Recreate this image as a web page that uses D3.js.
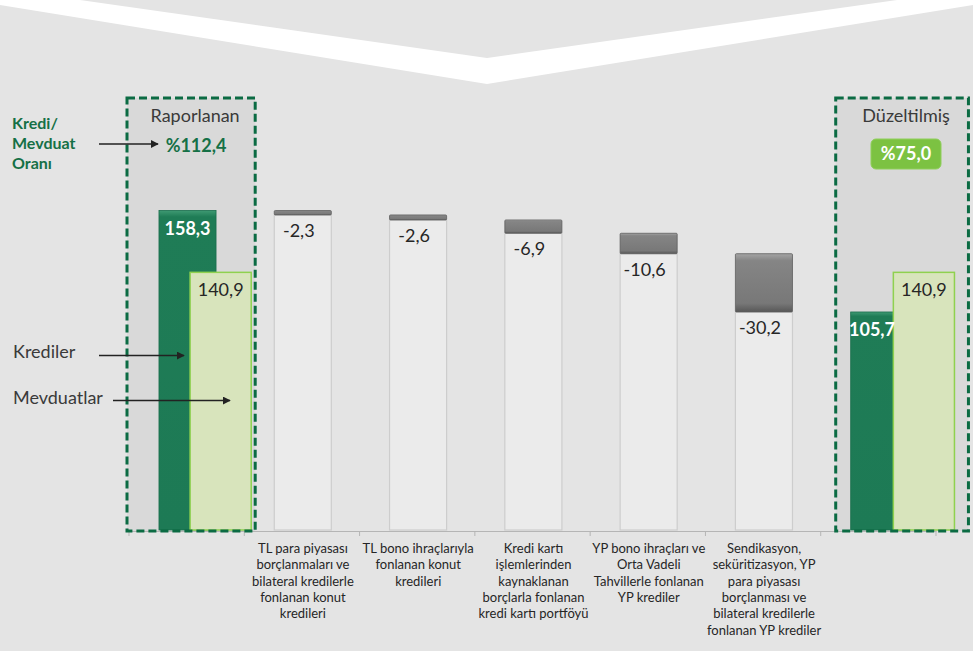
<!DOCTYPE html>
<html>
<head>
<meta charset="utf-8">
<script src="https://cdn.jsdelivr.net/npm/d3@7"></script>
<style>
  html, body { margin: 0; padding: 0; background: #e4e4e4; }
  svg { display: block; font-family: Lato, "Open Sans", sans-serif; }
</style>
</head>
<body>
<svg id="chart" width="973" height="651"></svg>
<script>
// ---------- data ----------
const categories = ["Raporlanan", "TL para", "TL bono", "Kredi kartı", "YP bono", "Sendikasyon", "Düzeltilmiş"];
const categoryLabelLines = [
  [],
  ["TL para piyasası", "borçlanmaları ve", "bilateral kredilerle", "fonlanan konut", "kredileri"],
  ["TL bono ihraçlarıyla", "fonlanan konut", "kredileri"],
  ["Kredi kartı", "işlemlerinden", "kaynaklanan", "borçlarla fonlanan", "kredi kartı portföyü"],
  ["YP bono ihraçları ve", "Orta Vadeli", "Tahvillerle fonlanan", "YP krediler"],
  ["Sendikasyon,", "seküritizasyon, YP", "para piyasası", "borçlanması ve", "bilateral kredilerle", "fonlanan YP krediler"],
  []
];
const endCategories = [0, 6];
const endTitles = ["Raporlanan", "Düzeltilmiş"];
const krediValues = [158.3, 105.7];
const mevduatValues = [140.9, 140.9];
const ratioLabels = ["%112,4", "%75,0"];
const adjustmentValues = [-2.3, -2.6, -6.9, -10.6, -30.2];
const adjustmentLabels = ["-2,3", "-2,6", "-6,9", "-10,6", "-30,2"];
const sideLabels = ["Kredi/", "Mevduat", "Oranı"];
const seriesNames = ["Krediler", "Mevduatlar"];

// ---------- setup ----------
const W = 973, H = 651;
const svg = d3.select("#chart");
const GREEN_TEXT = "#157046";
const TEXT = "#3a3a3a";

const defs = svg.append("defs");
const gGray = defs.append("linearGradient").attr("id", "gray").attr("x1", 0).attr("x2", 0).attr("y1", 0).attr("y2", 1);
gGray.append("stop").attr("offset", "0%").attr("stop-color", "#a5a5a5");
gGray.append("stop").attr("offset", "12%").attr("stop-color", "#858585");
gGray.append("stop").attr("offset", "85%").attr("stop-color", "#787878");
gGray.append("stop").attr("offset", "100%").attr("stop-color", "#575757");
const gGreen = defs.append("linearGradient").attr("id", "green").attr("x1", 0).attr("x2", 0).attr("y1", 0).attr("y2", 1);
gGreen.append("stop").attr("offset", "0%").attr("stop-color", "#3f9a73");
gGreen.append("stop").attr("offset", "2%").attr("stop-color", "#1f7c56");
gGreen.append("stop").attr("offset", "100%").attr("stop-color", "#1d7a55");
const mk = defs.append("marker").attr("id", "arrow").attr("viewBox", "0 0 10 10")
  .attr("refX", 9).attr("refY", 5).attr("markerWidth", 8).attr("markerHeight", 8)
  .attr("markerUnits", "userSpaceOnUse").attr("orient", "auto");
mk.append("path").attr("d", "M0,0 L10,5 L0,10 z").attr("fill", "#222");

// background + chevron
svg.append("rect").attr("width", W).attr("height", H).attr("fill", "#e4e4e4");
svg.append("path")
  .attr("d", `M0,0 L80,0 L487,58 L897,0 L973,0 L973,5 L487,84 L0,5 Z`)
  .attr("fill", "#ffffff");

// scales
const x = d3.scaleBand().domain(d3.range(categories.length)).range([129, 936]).padding(0);
const bw = x.bandwidth();
const yK = d3.scaleLinear().domain([-7.3, 158.3]).range([530, 210.5]);
const yM = d3.scaleLinear().domain([0, 175]).range([530, 210]);
const base = 530;
const barX = i => x(i) + bw * 0.26;
const barW = bw * 0.495;
const mevOffset = [0.53, 0.63];
const mevW = bw * 0.53;
const boxPad = [[-2, 4], [15, 14]];

// highlight boxes (fill)
const boxes = endCategories.map((c, k) => {
  const left = x(c) + boxPad[k][0];
  const right = x(c) + bw * mevOffset[k] + mevW + boxPad[k][1];
  return { left, right, top: 98, bottom: 531 };
});
boxes.forEach(b => {
  svg.append("rect").attr("x", b.left).attr("y", b.top).attr("width", b.right - b.left).attr("height", b.bottom - b.top)
    .attr("fill", "#d9d9d9");
});

// axis
const axisG = svg.append("g").attr("transform", `translate(0,${base + 1})`)
  .call(d3.axisBottom(x).tickValues([]).tickSizeOuter(0));
axisG.select(".domain").attr("stroke", "#b5b5b5");
d3.range(categories.length + 1).forEach(i => {
  const tx = 129 + i * bw;
  axisG.append("line").attr("x1", tx).attr("x2", tx).attr("y1", 0).attr("y2", 5).attr("stroke", "#b5b5b5");
});

// waterfall
let running = krediValues[0];
adjustmentValues.forEach((v, k) => {
  const i = k + 1;
  const top = running, bottom = running + v;
  running = bottom;
  svg.append("rect").attr("x", barX(i)).attr("y", yK(bottom)).attr("width", barW).attr("height", base - yK(bottom))
    .attr("fill", "#ebebeb").attr("stroke", "#cdcdcd").attr("stroke-width", 1.2);
  svg.append("rect").attr("x", barX(i)).attr("y", yK(top)).attr("width", barW).attr("height", Math.max(2.5, yK(bottom) - yK(top)))
    .attr("fill", "url(#gray)").attr("stroke", "#5e5e5e").attr("stroke-width", 0.8).attr("rx", 1);
  svg.append("text").attr("x", barX(i) + barW / 2 - 4).attr("y", yK(bottom) + 22)
    .attr("text-anchor", "middle").attr("font-size", 18).attr("fill", "#262626").text(adjustmentLabels[k]);
});

// end bars
endCategories.forEach((c, k) => {
  const kx = barX(c);
  const mx = x(c) + bw * mevOffset[k];
  svg.append("rect").attr("x", kx).attr("y", yK(krediValues[k])).attr("width", barW).attr("height", base - yK(krediValues[k]))
    .attr("fill", "url(#green)").attr("stroke", "#1a6e4c").attr("stroke-width", 0.8);
  svg.append("rect").attr("x", mx).attr("y", yM(mevduatValues[k])).attr("width", mevW).attr("height", base - yM(mevduatValues[k]))
    .attr("fill", "#d8e4bc").attr("stroke", "#8fd14f").attr("stroke-width", 1.5);
  const ky = yK(krediValues[k]);
  const fullVisible = ky + 24 < yM(mevduatValues[k]);
  const kcx = fullVisible ? kx + barW / 2 : (kx + mx) / 2;
  svg.append("text").attr("x", kcx).attr("y", ky + 24).attr("text-anchor", "middle")
    .attr("font-size", 18).attr("font-weight", "bold").attr("fill", "#ffffff").text(String(krediValues[k]).replace(".", ","));
  svg.append("text").attr("x", mx + mevW / 2).attr("y", yM(mevduatValues[k]) + 24).attr("text-anchor", "middle")
    .attr("font-size", 18).attr("fill", "#262626").text(String(mevduatValues[k]).replace(".", ","));
  svg.append("text").attr("x", (boxes[k].left + boxes[k].right) / 2 + 4).attr("y", 122).attr("text-anchor", "middle")
    .attr("font-size", 18).attr("fill", TEXT).text(endTitles[k]);
});

// dashed boxes outline
boxes.forEach(b => {
  svg.append("rect").attr("x", b.left).attr("y", b.top).attr("width", b.right - b.left).attr("height", b.bottom - b.top)
    .attr("fill", "none").attr("stroke", "#0b6b43").attr("stroke-width", 3).attr("stroke-dasharray", "8,4");
});

// ratio labels
svg.append("text").attr("x", 196).attr("y", 152).attr("text-anchor", "middle")
  .attr("font-size", 18).attr("font-weight", "bold").attr("fill", GREEN_TEXT).text(ratioLabels[0]);
svg.append("rect").attr("x", 871).attr("y", 139).attr("width", 70).attr("height", 30).attr("rx", 5)
  .attr("fill", "#7cc242").attr("stroke", "#8fcf5a").attr("stroke-width", 1);
svg.append("text").attr("x", 906).attr("y", 160).attr("text-anchor", "middle")
  .attr("font-size", 18).attr("font-weight", "bold").attr("fill", "#ffffff").text(ratioLabels[1]);

// side labels
sideLabels.forEach((t, i) => {
  svg.append("text").attr("x", 12).attr("y", 129 + i * 20).attr("font-size", 16).attr("font-weight", "bold")
    .attr("fill", GREEN_TEXT).text(t);
});
svg.append("line").attr("x1", 99).attr("x2", 158).attr("y1", 144).attr("y2", 144)
  .attr("stroke", "#222").attr("stroke-width", 1.3).attr("marker-end", "url(#arrow)");

svg.append("text").attr("x", 13).attr("y", 358).attr("font-size", 18).attr("fill", TEXT).text(seriesNames[0]);
svg.append("line").attr("x1", 99).attr("x2", 184).attr("y1", 355.5).attr("y2", 355.5)
  .attr("stroke", "#222").attr("stroke-width", 1.3).attr("marker-end", "url(#arrow)");
svg.append("text").attr("x", 13).attr("y", 404).attr("font-size", 18).attr("fill", TEXT).text(seriesNames[1]);
svg.append("line").attr("x1", 113).attr("x2", 230).attr("y1", 400.5).attr("y2", 400.5)
  .attr("stroke", "#222").attr("stroke-width", 1.3).attr("marker-end", "url(#arrow)");

// category labels
categoryLabelLines.forEach((lines, i) => {
  const t = svg.append("text").attr("text-anchor", "middle").attr("font-size", 13).attr("fill", "#262626");
  lines.forEach((ln, j) => {
    t.append("tspan").attr("x", x(i) + bw / 2 + 1).attr("y", 553 + j * 16.3).text(ln);
  });
});
</script>
</body>
</html>
